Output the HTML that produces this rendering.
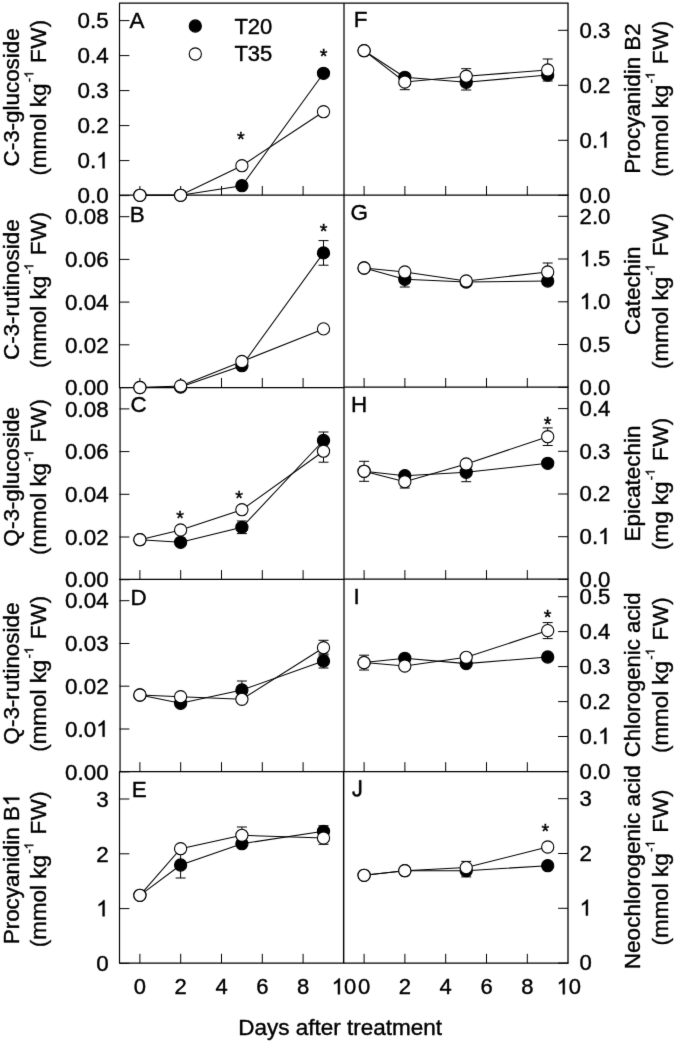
<!DOCTYPE html>
<html><head><meta charset="utf-8"><title>Figure</title>
<style>html,body{margin:0;padding:0;background:#fff;}body{width:675px;height:1042px;overflow:hidden;font-family:"Liberation Sans",sans-serif;}svg{display:block;filter:grayscale(1);}</style></head>
<body>
<svg width="675" height="1042" viewBox="0 0 675 1042" font-family="'Liberation Sans', sans-serif" fill="#000">
<style>text,path.g{stroke:#000;stroke-width:0.4px;}</style>
<defs><filter id="soft" x="0" y="0" width="100%" height="100%" filterUnits="userSpaceOnUse" primitiveUnits="userSpaceOnUse" color-interpolation-filters="sRGB"><feConvolveMatrix order="3" kernelMatrix="0.008 0.067 0.008 0.067 0.700 0.067 0.008 0.067 0.008" divisor="1" edgeMode="duplicate" preserveAlpha="true"/></filter></defs>
<g filter="url(#soft)">
<rect x="0" y="0" width="675" height="1042" fill="#fff"/>
<line x1="119.00" y1="3.15" x2="344.00" y2="3.15" stroke="#000" stroke-width="1.25"/>
<line x1="344.00" y1="3.15" x2="568.60" y2="3.15" stroke="#000" stroke-width="1.25"/>
<line x1="119.00" y1="195.10" x2="344.00" y2="195.10" stroke="#000" stroke-width="1.25"/>
<line x1="344.00" y1="195.05" x2="568.60" y2="195.05" stroke="#000" stroke-width="1.25"/>
<line x1="119.00" y1="387.60" x2="344.00" y2="387.60" stroke="#000" stroke-width="1.25"/>
<line x1="344.00" y1="387.15" x2="568.60" y2="387.15" stroke="#000" stroke-width="1.25"/>
<line x1="119.00" y1="579.25" x2="344.00" y2="579.25" stroke="#000" stroke-width="1.25"/>
<line x1="344.00" y1="579.20" x2="568.60" y2="579.20" stroke="#000" stroke-width="1.25"/>
<line x1="119.00" y1="771.65" x2="344.00" y2="771.65" stroke="#000" stroke-width="1.25"/>
<line x1="344.00" y1="771.60" x2="568.60" y2="771.60" stroke="#000" stroke-width="1.25"/>
<line x1="119.00" y1="963.20" x2="344.00" y2="963.20" stroke="#000" stroke-width="1.25"/>
<line x1="344.00" y1="963.20" x2="568.60" y2="963.20" stroke="#000" stroke-width="1.25"/>
<line x1="119.50" y1="3.15" x2="119.50" y2="195.10" stroke="#000" stroke-width="1.2"/>
<line x1="344.00" y1="3.15" x2="344.00" y2="195.10" stroke="#000" stroke-width="1.25"/>
<line x1="568.00" y1="3.15" x2="568.00" y2="195.10" stroke="#000" stroke-width="1.3"/>
<line x1="119.50" y1="195.10" x2="119.50" y2="387.60" stroke="#000" stroke-width="1.2"/>
<line x1="344.00" y1="195.10" x2="344.00" y2="387.60" stroke="#000" stroke-width="1.25"/>
<line x1="568.00" y1="195.10" x2="568.00" y2="387.60" stroke="#000" stroke-width="1.3"/>
<line x1="120.05" y1="387.60" x2="120.05" y2="579.25" stroke="#000" stroke-width="1.2"/>
<line x1="344.00" y1="387.60" x2="344.00" y2="579.25" stroke="#000" stroke-width="1.25"/>
<line x1="568.00" y1="387.60" x2="568.00" y2="579.25" stroke="#000" stroke-width="1.3"/>
<line x1="120.05" y1="579.25" x2="120.05" y2="771.65" stroke="#000" stroke-width="1.2"/>
<line x1="344.00" y1="579.25" x2="344.00" y2="771.65" stroke="#000" stroke-width="1.25"/>
<line x1="568.00" y1="579.25" x2="568.00" y2="771.65" stroke="#000" stroke-width="1.3"/>
<line x1="119.50" y1="771.65" x2="119.50" y2="963.20" stroke="#000" stroke-width="1.2"/>
<line x1="343.65" y1="771.65" x2="343.65" y2="963.20" stroke="#000" stroke-width="1.45"/>
<line x1="568.00" y1="771.65" x2="568.00" y2="963.20" stroke="#000" stroke-width="1.3"/>
<line x1="139.90" y1="195.30" x2="139.90" y2="186.00" stroke="#000" stroke-width="1.0"/>
<line x1="180.70" y1="195.30" x2="180.70" y2="186.00" stroke="#000" stroke-width="1.0"/>
<line x1="221.50" y1="195.30" x2="221.50" y2="186.00" stroke="#000" stroke-width="1.0"/>
<line x1="262.30" y1="195.30" x2="262.30" y2="186.00" stroke="#000" stroke-width="1.0"/>
<line x1="303.10" y1="195.30" x2="303.10" y2="186.00" stroke="#000" stroke-width="1.0"/>
<line x1="364.10" y1="195.30" x2="364.10" y2="186.00" stroke="#000" stroke-width="1.0"/>
<line x1="404.90" y1="195.30" x2="404.90" y2="186.00" stroke="#000" stroke-width="1.0"/>
<line x1="445.70" y1="195.30" x2="445.70" y2="186.00" stroke="#000" stroke-width="1.0"/>
<line x1="486.50" y1="195.30" x2="486.50" y2="186.00" stroke="#000" stroke-width="1.0"/>
<line x1="527.30" y1="195.30" x2="527.30" y2="186.00" stroke="#000" stroke-width="1.0"/>
<line x1="139.90" y1="387.30" x2="139.90" y2="378.00" stroke="#000" stroke-width="1.0"/>
<line x1="180.70" y1="387.30" x2="180.70" y2="378.00" stroke="#000" stroke-width="1.0"/>
<line x1="221.50" y1="387.30" x2="221.50" y2="378.00" stroke="#000" stroke-width="1.0"/>
<line x1="262.30" y1="387.30" x2="262.30" y2="378.00" stroke="#000" stroke-width="1.0"/>
<line x1="303.10" y1="387.30" x2="303.10" y2="378.00" stroke="#000" stroke-width="1.0"/>
<line x1="364.10" y1="387.30" x2="364.10" y2="378.00" stroke="#000" stroke-width="1.0"/>
<line x1="404.90" y1="387.30" x2="404.90" y2="378.00" stroke="#000" stroke-width="1.0"/>
<line x1="445.70" y1="387.30" x2="445.70" y2="378.00" stroke="#000" stroke-width="1.0"/>
<line x1="486.50" y1="387.30" x2="486.50" y2="378.00" stroke="#000" stroke-width="1.0"/>
<line x1="527.30" y1="387.30" x2="527.30" y2="378.00" stroke="#000" stroke-width="1.0"/>
<line x1="139.90" y1="579.40" x2="139.90" y2="570.10" stroke="#000" stroke-width="1.0"/>
<line x1="180.70" y1="579.40" x2="180.70" y2="570.10" stroke="#000" stroke-width="1.0"/>
<line x1="221.50" y1="579.40" x2="221.50" y2="570.10" stroke="#000" stroke-width="1.0"/>
<line x1="262.30" y1="579.40" x2="262.30" y2="570.10" stroke="#000" stroke-width="1.0"/>
<line x1="303.10" y1="579.40" x2="303.10" y2="570.10" stroke="#000" stroke-width="1.0"/>
<line x1="364.10" y1="579.40" x2="364.10" y2="570.10" stroke="#000" stroke-width="1.0"/>
<line x1="404.90" y1="579.40" x2="404.90" y2="570.10" stroke="#000" stroke-width="1.0"/>
<line x1="445.70" y1="579.40" x2="445.70" y2="570.10" stroke="#000" stroke-width="1.0"/>
<line x1="486.50" y1="579.40" x2="486.50" y2="570.10" stroke="#000" stroke-width="1.0"/>
<line x1="527.30" y1="579.40" x2="527.30" y2="570.10" stroke="#000" stroke-width="1.0"/>
<line x1="139.90" y1="771.50" x2="139.90" y2="762.20" stroke="#000" stroke-width="1.0"/>
<line x1="180.70" y1="771.50" x2="180.70" y2="762.20" stroke="#000" stroke-width="1.0"/>
<line x1="221.50" y1="771.50" x2="221.50" y2="762.20" stroke="#000" stroke-width="1.0"/>
<line x1="262.30" y1="771.50" x2="262.30" y2="762.20" stroke="#000" stroke-width="1.0"/>
<line x1="303.10" y1="771.50" x2="303.10" y2="762.20" stroke="#000" stroke-width="1.0"/>
<line x1="364.10" y1="771.50" x2="364.10" y2="762.20" stroke="#000" stroke-width="1.0"/>
<line x1="404.90" y1="771.50" x2="404.90" y2="762.20" stroke="#000" stroke-width="1.0"/>
<line x1="445.70" y1="771.50" x2="445.70" y2="762.20" stroke="#000" stroke-width="1.0"/>
<line x1="486.50" y1="771.50" x2="486.50" y2="762.20" stroke="#000" stroke-width="1.0"/>
<line x1="527.30" y1="771.50" x2="527.30" y2="762.20" stroke="#000" stroke-width="1.0"/>
<line x1="139.90" y1="963.10" x2="139.90" y2="953.80" stroke="#000" stroke-width="1.0"/>
<line x1="180.70" y1="963.10" x2="180.70" y2="953.80" stroke="#000" stroke-width="1.0"/>
<line x1="221.50" y1="963.10" x2="221.50" y2="953.80" stroke="#000" stroke-width="1.0"/>
<line x1="262.30" y1="963.10" x2="262.30" y2="953.80" stroke="#000" stroke-width="1.0"/>
<line x1="303.10" y1="963.10" x2="303.10" y2="953.80" stroke="#000" stroke-width="1.0"/>
<line x1="364.10" y1="963.10" x2="364.10" y2="953.80" stroke="#000" stroke-width="1.0"/>
<line x1="404.90" y1="963.10" x2="404.90" y2="953.80" stroke="#000" stroke-width="1.0"/>
<line x1="445.70" y1="963.10" x2="445.70" y2="953.80" stroke="#000" stroke-width="1.0"/>
<line x1="486.50" y1="963.10" x2="486.50" y2="953.80" stroke="#000" stroke-width="1.0"/>
<line x1="527.30" y1="963.10" x2="527.30" y2="953.80" stroke="#000" stroke-width="1.0"/>
<line x1="119.60" y1="20.60" x2="129.40" y2="20.60" stroke="#000" stroke-width="1.0"/>
<text x="77.56" y="28.30" font-size="22.4" text-anchor="start" >0.5</text>
<line x1="119.60" y1="55.60" x2="129.40" y2="55.60" stroke="#000" stroke-width="1.0"/>
<text x="77.56" y="63.30" font-size="22.4" text-anchor="start" >0.4</text>
<line x1="119.60" y1="90.60" x2="129.40" y2="90.60" stroke="#000" stroke-width="1.0"/>
<text x="77.56" y="98.30" font-size="22.4" text-anchor="start" >0.3</text>
<line x1="119.60" y1="125.60" x2="129.40" y2="125.60" stroke="#000" stroke-width="1.0"/>
<text x="77.56" y="133.30" font-size="22.4" text-anchor="start" >0.2</text>
<line x1="119.60" y1="160.60" x2="129.40" y2="160.60" stroke="#000" stroke-width="1.0"/>
<text x="77.56" y="168.30" font-size="22.4" text-anchor="start" >0.</text>
<path class="g" d="M104.59,168.30L102.62,168.30L102.62,155.75Q101.91,156.43 100.76,157.11Q99.60,157.79 98.68,158.13L98.68,156.23Q100.34,155.45 101.57,154.34Q102.81,153.24 103.32,152.20L104.59,152.20Z"/>
<line x1="119.60" y1="195.60" x2="129.40" y2="195.60" stroke="#000" stroke-width="1.0"/>
<text x="77.56" y="203.30" font-size="22.4" text-anchor="start" >0.0</text>
<text transform="translate(19.30,97.40) rotate(-90)" font-size="22.4" text-anchor="middle">C-3-glucoside</text>
<g transform="translate(46.30,97.40) rotate(-90)">
<text x="-78.21" y="0.00" font-size="22.4" text-anchor="start" >(mmol kg</text>
<text x="15.38" y="-13.00" font-size="12.5" text-anchor="start" >-</text>
<path class="g" d="M24.20,-13.00L23.10,-13.00L23.10,-20.00Q22.71,-19.62 22.06,-19.24Q21.42,-18.87 20.91,-18.68L20.91,-19.74Q21.83,-20.17 22.52,-20.79Q23.21,-21.40 23.49,-21.98L24.20,-21.98Z"/>
<text x="34.42" y="0.00" font-size="22.4" text-anchor="start" letter-spacing="0.5">FW)</text>
</g>
<line x1="119.60" y1="216.70" x2="129.40" y2="216.70" stroke="#000" stroke-width="1.0"/>
<text x="65.11" y="224.40" font-size="22.4" text-anchor="start" >0.08</text>
<line x1="119.60" y1="259.40" x2="129.40" y2="259.40" stroke="#000" stroke-width="1.0"/>
<text x="65.11" y="267.10" font-size="22.4" text-anchor="start" >0.06</text>
<line x1="119.60" y1="302.10" x2="129.40" y2="302.10" stroke="#000" stroke-width="1.0"/>
<text x="65.11" y="309.80" font-size="22.4" text-anchor="start" >0.04</text>
<line x1="119.60" y1="344.80" x2="129.40" y2="344.80" stroke="#000" stroke-width="1.0"/>
<text x="65.11" y="352.50" font-size="22.4" text-anchor="start" >0.02</text>
<line x1="119.60" y1="387.60" x2="129.40" y2="387.60" stroke="#000" stroke-width="1.0"/>
<text x="65.11" y="395.30" font-size="22.4" text-anchor="start" >0.00</text>
<text transform="translate(19.30,289.70) rotate(-90)" font-size="22.4" text-anchor="middle">C-3-rutinoside</text>
<g transform="translate(46.30,289.70) rotate(-90)">
<text x="-78.21" y="0.00" font-size="22.4" text-anchor="start" >(mmol kg</text>
<text x="15.38" y="-13.00" font-size="12.5" text-anchor="start" >-</text>
<path class="g" d="M24.20,-13.00L23.10,-13.00L23.10,-20.00Q22.71,-19.62 22.06,-19.24Q21.42,-18.87 20.91,-18.68L20.91,-19.74Q21.83,-20.17 22.52,-20.79Q23.21,-21.40 23.49,-21.98L24.20,-21.98Z"/>
<text x="34.42" y="0.00" font-size="22.4" text-anchor="start" letter-spacing="0.5">FW)</text>
</g>
<line x1="119.60" y1="408.90" x2="129.40" y2="408.90" stroke="#000" stroke-width="1.0"/>
<text x="65.11" y="416.60" font-size="22.4" text-anchor="start" >0.08</text>
<line x1="119.60" y1="451.60" x2="129.40" y2="451.60" stroke="#000" stroke-width="1.0"/>
<text x="65.11" y="459.30" font-size="22.4" text-anchor="start" >0.06</text>
<line x1="119.60" y1="494.30" x2="129.40" y2="494.30" stroke="#000" stroke-width="1.0"/>
<text x="65.11" y="502.00" font-size="22.4" text-anchor="start" >0.04</text>
<line x1="119.60" y1="537.00" x2="129.40" y2="537.00" stroke="#000" stroke-width="1.0"/>
<text x="65.11" y="544.70" font-size="22.4" text-anchor="start" >0.02</text>
<line x1="119.60" y1="579.70" x2="129.40" y2="579.70" stroke="#000" stroke-width="1.0"/>
<text x="65.11" y="587.40" font-size="22.4" text-anchor="start" >0.00</text>
<text transform="translate(19.30,476.80) rotate(-90)" font-size="22.4" text-anchor="middle">Q-3-glucoside</text>
<g transform="translate(46.30,476.80) rotate(-90)">
<text x="-78.21" y="0.00" font-size="22.4" text-anchor="start" >(mmol kg</text>
<text x="15.38" y="-13.00" font-size="12.5" text-anchor="start" >-</text>
<path class="g" d="M24.20,-13.00L23.10,-13.00L23.10,-20.00Q22.71,-19.62 22.06,-19.24Q21.42,-18.87 20.91,-18.68L20.91,-19.74Q21.83,-20.17 22.52,-20.79Q23.21,-21.40 23.49,-21.98L24.20,-21.98Z"/>
<text x="34.42" y="0.00" font-size="22.4" text-anchor="start" letter-spacing="0.5">FW)</text>
</g>
<line x1="119.60" y1="600.70" x2="129.40" y2="600.70" stroke="#000" stroke-width="1.0"/>
<text x="65.11" y="608.40" font-size="22.4" text-anchor="start" >0.04</text>
<line x1="119.60" y1="643.50" x2="129.40" y2="643.50" stroke="#000" stroke-width="1.0"/>
<text x="65.11" y="651.20" font-size="22.4" text-anchor="start" >0.03</text>
<line x1="119.60" y1="686.20" x2="129.40" y2="686.20" stroke="#000" stroke-width="1.0"/>
<text x="65.11" y="693.90" font-size="22.4" text-anchor="start" >0.02</text>
<line x1="119.60" y1="729.00" x2="129.40" y2="729.00" stroke="#000" stroke-width="1.0"/>
<text x="65.11" y="736.70" font-size="22.4" text-anchor="start" >0.0</text>
<path class="g" d="M104.59,736.70L102.62,736.70L102.62,724.15Q101.91,724.83 100.76,725.51Q99.60,726.19 98.68,726.53L98.68,724.62Q100.34,723.85 101.57,722.74Q102.81,721.64 103.32,720.60L104.59,720.60Z"/>
<line x1="119.60" y1="771.80" x2="129.40" y2="771.80" stroke="#000" stroke-width="1.0"/>
<text x="65.11" y="779.50" font-size="22.4" text-anchor="start" >0.00</text>
<text transform="translate(19.30,673.55) rotate(-90)" font-size="22.4" text-anchor="middle">Q-3-rutinoside</text>
<g transform="translate(46.30,673.55) rotate(-90)">
<text x="-78.21" y="0.00" font-size="22.4" text-anchor="start" >(mmol kg</text>
<text x="15.38" y="-13.00" font-size="12.5" text-anchor="start" >-</text>
<path class="g" d="M24.20,-13.00L23.10,-13.00L23.10,-20.00Q22.71,-19.62 22.06,-19.24Q21.42,-18.87 20.91,-18.68L20.91,-19.74Q21.83,-20.17 22.52,-20.79Q23.21,-21.40 23.49,-21.98L24.20,-21.98Z"/>
<text x="34.42" y="0.00" font-size="22.4" text-anchor="start" letter-spacing="0.5">FW)</text>
</g>
<line x1="119.60" y1="799.00" x2="129.40" y2="799.00" stroke="#000" stroke-width="1.0"/>
<text x="96.25" y="806.70" font-size="22.4" text-anchor="start" >3</text>
<line x1="119.60" y1="853.80" x2="129.40" y2="853.80" stroke="#000" stroke-width="1.0"/>
<text x="96.25" y="861.50" font-size="22.4" text-anchor="start" >2</text>
<line x1="119.60" y1="908.60" x2="129.40" y2="908.60" stroke="#000" stroke-width="1.0"/>
<path class="g" d="M104.59,916.30L102.62,916.30L102.62,903.75Q101.91,904.43 100.76,905.11Q99.60,905.79 98.68,906.13L98.68,904.22Q100.34,903.45 101.57,902.34Q102.81,901.24 103.32,900.20L104.59,900.20Z"/>
<line x1="119.60" y1="963.40" x2="129.40" y2="963.40" stroke="#000" stroke-width="1.0"/>
<text x="96.25" y="971.10" font-size="22.4" text-anchor="start" >0</text>
<g transform="translate(19.30,868.95) rotate(-90)">
<text x="-75.32" y="0.00" font-size="22.4" text-anchor="start" >Procyanidin B</text>
<path class="g" d="M71.21,0.00L69.24,0.00L69.24,-12.55Q68.53,-11.87 67.38,-11.19Q66.22,-10.51 65.30,-10.17L65.30,-12.07Q66.96,-12.85 68.19,-13.96Q69.43,-15.06 69.94,-16.10L71.21,-16.10Z"/>
</g>
<g transform="translate(46.30,868.95) rotate(-90)">
<text x="-78.21" y="0.00" font-size="22.4" text-anchor="start" >(mmol kg</text>
<text x="15.38" y="-13.00" font-size="12.5" text-anchor="start" >-</text>
<path class="g" d="M24.20,-13.00L23.10,-13.00L23.10,-20.00Q22.71,-19.62 22.06,-19.24Q21.42,-18.87 20.91,-18.68L20.91,-19.74Q21.83,-20.17 22.52,-20.79Q23.21,-21.40 23.49,-21.98L24.20,-21.98Z"/>
<text x="34.42" y="0.00" font-size="22.4" text-anchor="start" letter-spacing="0.5">FW)</text>
</g>
<line x1="568.00" y1="30.30" x2="558.10" y2="30.30" stroke="#000" stroke-width="1.0"/>
<text x="579.60" y="37.60" font-size="22.2" text-anchor="start" >0.3</text>
<line x1="568.00" y1="85.30" x2="558.10" y2="85.30" stroke="#000" stroke-width="1.0"/>
<text x="579.60" y="92.60" font-size="22.2" text-anchor="start" >0.2</text>
<line x1="568.00" y1="140.30" x2="558.10" y2="140.30" stroke="#000" stroke-width="1.0"/>
<text x="579.60" y="147.60" font-size="22.2" text-anchor="start" >0.</text>
<path class="g" d="M606.39,147.60L604.43,147.60L604.43,135.17Q603.73,135.84 602.59,136.51Q601.44,137.18 600.53,137.52L600.53,135.63Q602.17,134.86 603.39,133.77Q604.62,132.67 605.13,131.64L606.39,131.64Z"/>
<line x1="568.00" y1="195.30" x2="558.10" y2="195.30" stroke="#000" stroke-width="1.0"/>
<text x="579.60" y="202.60" font-size="22.2" text-anchor="start" >0.0</text>
<text transform="translate(640.10,98.55) rotate(-90)" font-size="22.4" text-anchor="middle">Procyanidin B2</text>
<g transform="translate(667.60,98.55) rotate(-90)">
<text x="-78.21" y="0.00" font-size="22.4" text-anchor="start" >(mmol kg</text>
<text x="15.38" y="-13.00" font-size="12.5" text-anchor="start" >-</text>
<path class="g" d="M24.20,-13.00L23.10,-13.00L23.10,-20.00Q22.71,-19.62 22.06,-19.24Q21.42,-18.87 20.91,-18.68L20.91,-19.74Q21.83,-20.17 22.52,-20.79Q23.21,-21.40 23.49,-21.98L24.20,-21.98Z"/>
<text x="34.42" y="0.00" font-size="22.4" text-anchor="start" letter-spacing="0.5">FW)</text>
</g>
<line x1="568.00" y1="216.30" x2="558.10" y2="216.30" stroke="#000" stroke-width="1.0"/>
<text x="579.60" y="223.60" font-size="22.2" text-anchor="start" >2.0</text>
<line x1="568.00" y1="259.00" x2="558.10" y2="259.00" stroke="#000" stroke-width="1.0"/>
<path class="g" d="M587.87,266.30L585.92,266.30L585.92,253.87Q585.22,254.54 584.07,255.21Q582.93,255.88 582.02,256.22L582.02,254.33Q583.65,253.56 584.88,252.47Q586.10,251.37 586.61,250.34L587.87,250.34Z"/>
<text x="591.94" y="266.30" font-size="22.2" text-anchor="start" >.5</text>
<line x1="568.00" y1="301.80" x2="558.10" y2="301.80" stroke="#000" stroke-width="1.0"/>
<path class="g" d="M587.87,309.10L585.92,309.10L585.92,296.67Q585.22,297.34 584.07,298.01Q582.93,298.68 582.02,299.02L582.02,297.13Q583.65,296.36 584.88,295.27Q586.10,294.17 586.61,293.14L587.87,293.14Z"/>
<text x="591.94" y="309.10" font-size="22.2" text-anchor="start" >.0</text>
<line x1="568.00" y1="344.50" x2="558.10" y2="344.50" stroke="#000" stroke-width="1.0"/>
<text x="579.60" y="351.80" font-size="22.2" text-anchor="start" >0.5</text>
<line x1="568.00" y1="387.30" x2="558.10" y2="387.30" stroke="#000" stroke-width="1.0"/>
<text x="579.60" y="394.60" font-size="22.2" text-anchor="start" >0.0</text>
<text transform="translate(640.10,290.70) rotate(-90)" font-size="22.4" text-anchor="middle">Catechin</text>
<g transform="translate(667.60,290.70) rotate(-90)">
<text x="-78.21" y="0.00" font-size="22.4" text-anchor="start" >(mmol kg</text>
<text x="15.38" y="-13.00" font-size="12.5" text-anchor="start" >-</text>
<path class="g" d="M24.20,-13.00L23.10,-13.00L23.10,-20.00Q22.71,-19.62 22.06,-19.24Q21.42,-18.87 20.91,-18.68L20.91,-19.74Q21.83,-20.17 22.52,-20.79Q23.21,-21.40 23.49,-21.98L24.20,-21.98Z"/>
<text x="34.42" y="0.00" font-size="22.4" text-anchor="start" letter-spacing="0.5">FW)</text>
</g>
<line x1="568.00" y1="408.60" x2="558.10" y2="408.60" stroke="#000" stroke-width="1.0"/>
<text x="579.60" y="415.90" font-size="22.2" text-anchor="start" >0.4</text>
<line x1="568.00" y1="451.30" x2="558.10" y2="451.30" stroke="#000" stroke-width="1.0"/>
<text x="579.60" y="458.60" font-size="22.2" text-anchor="start" >0.3</text>
<line x1="568.00" y1="494.00" x2="558.10" y2="494.00" stroke="#000" stroke-width="1.0"/>
<text x="579.60" y="501.30" font-size="22.2" text-anchor="start" >0.2</text>
<line x1="568.00" y1="536.70" x2="558.10" y2="536.70" stroke="#000" stroke-width="1.0"/>
<text x="579.60" y="544.00" font-size="22.2" text-anchor="start" >0.</text>
<path class="g" d="M606.39,544.00L604.43,544.00L604.43,531.57Q603.73,532.24 602.59,532.91Q601.44,533.58 600.53,533.92L600.53,532.03Q602.17,531.26 603.39,530.17Q604.62,529.07 605.13,528.04L606.39,528.04Z"/>
<line x1="568.00" y1="579.40" x2="558.10" y2="579.40" stroke="#000" stroke-width="1.0"/>
<text x="579.60" y="586.70" font-size="22.2" text-anchor="start" >0.0</text>
<text transform="translate(640.10,483.55) rotate(-90)" font-size="22.4" text-anchor="middle">Epicatechin</text>
<g transform="translate(667.60,483.55) rotate(-90)">
<text x="-66.39" y="0.00" font-size="22.4" text-anchor="start" >(mg kg</text>
<text x="3.56" y="-13.00" font-size="12.5" text-anchor="start" >-</text>
<path class="g" d="M12.38,-13.00L11.28,-13.00L11.28,-20.00Q10.89,-19.62 10.24,-19.24Q9.60,-18.87 9.09,-18.68L9.09,-19.74Q10.01,-20.17 10.70,-20.79Q11.39,-21.40 11.67,-21.98L12.38,-21.98Z"/>
<text x="22.60" y="0.00" font-size="22.4" text-anchor="start" letter-spacing="0.5">FW)</text>
</g>
<line x1="568.00" y1="596.70" x2="558.10" y2="596.70" stroke="#000" stroke-width="1.0"/>
<text x="579.60" y="604.00" font-size="22.2" text-anchor="start" >0.5</text>
<line x1="568.00" y1="631.60" x2="558.10" y2="631.60" stroke="#000" stroke-width="1.0"/>
<text x="579.60" y="638.90" font-size="22.2" text-anchor="start" >0.4</text>
<line x1="568.00" y1="666.60" x2="558.10" y2="666.60" stroke="#000" stroke-width="1.0"/>
<text x="579.60" y="673.90" font-size="22.2" text-anchor="start" >0.3</text>
<line x1="568.00" y1="701.60" x2="558.10" y2="701.60" stroke="#000" stroke-width="1.0"/>
<text x="579.60" y="708.90" font-size="22.2" text-anchor="start" >0.2</text>
<line x1="568.00" y1="736.50" x2="558.10" y2="736.50" stroke="#000" stroke-width="1.0"/>
<text x="579.60" y="743.80" font-size="22.2" text-anchor="start" >0.</text>
<path class="g" d="M606.39,743.80L604.43,743.80L604.43,731.37Q603.73,732.04 602.59,732.71Q601.44,733.38 600.53,733.72L600.53,731.83Q602.17,731.06 603.39,729.97Q604.62,728.87 605.13,727.84L606.39,727.84Z"/>
<line x1="568.00" y1="771.50" x2="558.10" y2="771.50" stroke="#000" stroke-width="1.0"/>
<text x="579.60" y="778.80" font-size="22.2" text-anchor="start" >0.0</text>
<text transform="translate(640.10,674.85) rotate(-90)" font-size="22.1" text-anchor="middle">Chlorogenic acid</text>
<g transform="translate(667.60,674.85) rotate(-90)">
<text x="-78.21" y="0.00" font-size="22.4" text-anchor="start" >(mmol kg</text>
<text x="15.38" y="-13.00" font-size="12.5" text-anchor="start" >-</text>
<path class="g" d="M24.20,-13.00L23.10,-13.00L23.10,-20.00Q22.71,-19.62 22.06,-19.24Q21.42,-18.87 20.91,-18.68L20.91,-19.74Q21.83,-20.17 22.52,-20.79Q23.21,-21.40 23.49,-21.98L24.20,-21.98Z"/>
<text x="34.42" y="0.00" font-size="22.4" text-anchor="start" letter-spacing="0.5">FW)</text>
</g>
<line x1="568.00" y1="798.70" x2="558.10" y2="798.70" stroke="#000" stroke-width="1.0"/>
<text x="579.60" y="806.00" font-size="22.2" text-anchor="start" >3</text>
<line x1="568.00" y1="853.50" x2="558.10" y2="853.50" stroke="#000" stroke-width="1.0"/>
<text x="579.60" y="860.80" font-size="22.2" text-anchor="start" >2</text>
<line x1="568.00" y1="908.30" x2="558.10" y2="908.30" stroke="#000" stroke-width="1.0"/>
<path class="g" d="M587.87,915.60L585.92,915.60L585.92,903.17Q585.22,903.84 584.07,904.51Q582.93,905.18 582.02,905.52L582.02,903.63Q583.65,902.86 584.88,901.77Q586.10,900.67 586.61,899.64L587.87,899.64Z"/>
<line x1="568.00" y1="963.10" x2="558.10" y2="963.10" stroke="#000" stroke-width="1.0"/>
<text x="579.60" y="970.40" font-size="22.2" text-anchor="start" >0</text>
<text transform="translate(640.10,867.20) rotate(-90)" font-size="22.5" text-anchor="middle">Neochlorogenic acid</text>
<g transform="translate(667.60,867.20) rotate(-90)">
<text x="-78.21" y="0.00" font-size="22.4" text-anchor="start" >(mmol kg</text>
<text x="15.38" y="-13.00" font-size="12.5" text-anchor="start" >-</text>
<path class="g" d="M24.20,-13.00L23.10,-13.00L23.10,-20.00Q22.71,-19.62 22.06,-19.24Q21.42,-18.87 20.91,-18.68L20.91,-19.74Q21.83,-20.17 22.52,-20.79Q23.21,-21.40 23.49,-21.98L24.20,-21.98Z"/>
<text x="34.42" y="0.00" font-size="22.4" text-anchor="start" letter-spacing="0.5">FW)</text>
</g>
<path d="M139.90,195.30 L180.60,195.30 L241.90,185.70 L323.50,73.30" fill="none" stroke="#000" stroke-width="1.05"/>
<line x1="323.50" y1="70.30" x2="323.50" y2="76.30" stroke="#000" stroke-width="1.0"/>
<line x1="318.50" y1="70.30" x2="328.50" y2="70.30" stroke="#000" stroke-width="1.0"/>
<line x1="318.50" y1="76.30" x2="328.50" y2="76.30" stroke="#000" stroke-width="1.0"/>
<circle cx="139.90" cy="195.30" r="6.1" fill="#000" stroke="#000" stroke-width="1.1"/>
<circle cx="180.60" cy="195.30" r="6.1" fill="#000" stroke="#000" stroke-width="1.1"/>
<circle cx="241.90" cy="185.70" r="6.1" fill="#000" stroke="#000" stroke-width="1.1"/>
<circle cx="323.50" cy="73.30" r="6.1" fill="#000" stroke="#000" stroke-width="1.1"/>
<path d="M139.90,195.30 L180.60,195.30 L241.90,165.70 L323.50,111.70" fill="none" stroke="#000" stroke-width="1.05"/>
<circle cx="139.90" cy="195.30" r="6.1" fill="#fff" stroke="#000" stroke-width="1.1"/>
<circle cx="180.60" cy="195.30" r="6.1" fill="#fff" stroke="#000" stroke-width="1.1"/>
<circle cx="241.90" cy="165.70" r="6.1" fill="#fff" stroke="#000" stroke-width="1.1"/>
<circle cx="323.50" cy="111.70" r="6.1" fill="#fff" stroke="#000" stroke-width="1.1"/>
<text x="240.90" y="146.10" font-size="19.8" text-anchor="middle" >*</text>
<text x="323.70" y="62.50" font-size="19.8" text-anchor="middle" >*</text>
<path d="M139.90,387.50 L180.60,387.00 L241.90,365.70 L323.50,252.90" fill="none" stroke="#000" stroke-width="1.05"/>
<line x1="323.50" y1="240.60" x2="323.50" y2="265.20" stroke="#000" stroke-width="1.0"/>
<line x1="318.50" y1="240.60" x2="328.50" y2="240.60" stroke="#000" stroke-width="1.0"/>
<line x1="318.50" y1="265.20" x2="328.50" y2="265.20" stroke="#000" stroke-width="1.0"/>
<circle cx="139.90" cy="387.50" r="6.1" fill="#000" stroke="#000" stroke-width="1.1"/>
<circle cx="180.60" cy="387.00" r="6.1" fill="#000" stroke="#000" stroke-width="1.1"/>
<circle cx="241.90" cy="365.70" r="6.1" fill="#000" stroke="#000" stroke-width="1.1"/>
<circle cx="323.50" cy="252.90" r="6.1" fill="#000" stroke="#000" stroke-width="1.1"/>
<path d="M139.90,387.50 L180.60,386.00 L241.90,361.50 L323.50,328.90" fill="none" stroke="#000" stroke-width="1.05"/>
<circle cx="139.90" cy="387.50" r="6.1" fill="#fff" stroke="#000" stroke-width="1.1"/>
<circle cx="180.60" cy="386.00" r="6.1" fill="#fff" stroke="#000" stroke-width="1.1"/>
<circle cx="241.90" cy="361.50" r="6.1" fill="#fff" stroke="#000" stroke-width="1.1"/>
<circle cx="323.50" cy="328.90" r="6.1" fill="#fff" stroke="#000" stroke-width="1.1"/>
<text x="323.50" y="238.10" font-size="19.8" text-anchor="middle" >*</text>
<path d="M139.90,539.70 L180.60,542.30 L241.90,527.30 L323.50,440.50" fill="none" stroke="#000" stroke-width="1.05"/>
<line x1="241.90" y1="521.00" x2="241.90" y2="533.60" stroke="#000" stroke-width="1.0"/>
<line x1="236.90" y1="521.00" x2="246.90" y2="521.00" stroke="#000" stroke-width="1.0"/>
<line x1="236.90" y1="533.60" x2="246.90" y2="533.60" stroke="#000" stroke-width="1.0"/>
<line x1="323.50" y1="432.00" x2="323.50" y2="449.00" stroke="#000" stroke-width="1.0"/>
<line x1="318.50" y1="432.00" x2="328.50" y2="432.00" stroke="#000" stroke-width="1.0"/>
<line x1="318.50" y1="449.00" x2="328.50" y2="449.00" stroke="#000" stroke-width="1.0"/>
<circle cx="139.90" cy="539.70" r="6.1" fill="#000" stroke="#000" stroke-width="1.1"/>
<circle cx="180.60" cy="542.30" r="6.1" fill="#000" stroke="#000" stroke-width="1.1"/>
<circle cx="241.90" cy="527.30" r="6.1" fill="#000" stroke="#000" stroke-width="1.1"/>
<circle cx="323.50" cy="440.50" r="6.1" fill="#000" stroke="#000" stroke-width="1.1"/>
<path d="M139.90,539.70 L180.60,530.00 L241.90,509.70 L323.50,451.20" fill="none" stroke="#000" stroke-width="1.05"/>
<line x1="323.50" y1="440.20" x2="323.50" y2="462.20" stroke="#000" stroke-width="1.0"/>
<line x1="318.50" y1="440.20" x2="328.50" y2="440.20" stroke="#000" stroke-width="1.0"/>
<line x1="318.50" y1="462.20" x2="328.50" y2="462.20" stroke="#000" stroke-width="1.0"/>
<circle cx="139.90" cy="539.70" r="6.1" fill="#fff" stroke="#000" stroke-width="1.1"/>
<circle cx="180.60" cy="530.00" r="6.1" fill="#fff" stroke="#000" stroke-width="1.1"/>
<circle cx="241.90" cy="509.70" r="6.1" fill="#fff" stroke="#000" stroke-width="1.1"/>
<circle cx="323.50" cy="451.20" r="6.1" fill="#fff" stroke="#000" stroke-width="1.1"/>
<text x="180.20" y="525.10" font-size="19.8" text-anchor="middle" >*</text>
<text x="239.20" y="505.10" font-size="19.8" text-anchor="middle" >*</text>
<path d="M139.90,695.00 L180.60,703.30 L241.90,690.00 L323.50,661.00" fill="none" stroke="#000" stroke-width="1.05"/>
<line x1="241.90" y1="681.00" x2="241.90" y2="699.00" stroke="#000" stroke-width="1.0"/>
<line x1="236.90" y1="681.00" x2="246.90" y2="681.00" stroke="#000" stroke-width="1.0"/>
<line x1="236.90" y1="699.00" x2="246.90" y2="699.00" stroke="#000" stroke-width="1.0"/>
<line x1="323.50" y1="654.00" x2="323.50" y2="668.00" stroke="#000" stroke-width="1.0"/>
<line x1="318.50" y1="654.00" x2="328.50" y2="654.00" stroke="#000" stroke-width="1.0"/>
<line x1="318.50" y1="668.00" x2="328.50" y2="668.00" stroke="#000" stroke-width="1.0"/>
<circle cx="139.90" cy="695.00" r="6.1" fill="#000" stroke="#000" stroke-width="1.1"/>
<circle cx="180.60" cy="703.30" r="6.1" fill="#000" stroke="#000" stroke-width="1.1"/>
<circle cx="241.90" cy="690.00" r="6.1" fill="#000" stroke="#000" stroke-width="1.1"/>
<circle cx="323.50" cy="661.00" r="6.1" fill="#000" stroke="#000" stroke-width="1.1"/>
<path d="M139.90,695.00 L180.60,696.70 L241.90,699.30 L323.50,647.70" fill="none" stroke="#000" stroke-width="1.05"/>
<line x1="323.50" y1="640.30" x2="323.50" y2="655.10" stroke="#000" stroke-width="1.0"/>
<line x1="318.50" y1="640.30" x2="328.50" y2="640.30" stroke="#000" stroke-width="1.0"/>
<line x1="318.50" y1="655.10" x2="328.50" y2="655.10" stroke="#000" stroke-width="1.0"/>
<circle cx="139.90" cy="695.00" r="6.1" fill="#fff" stroke="#000" stroke-width="1.1"/>
<circle cx="180.60" cy="696.70" r="6.1" fill="#fff" stroke="#000" stroke-width="1.1"/>
<circle cx="241.90" cy="699.30" r="6.1" fill="#fff" stroke="#000" stroke-width="1.1"/>
<circle cx="323.50" cy="647.70" r="6.1" fill="#fff" stroke="#000" stroke-width="1.1"/>
<path d="M139.90,895.30 L180.60,865.00 L241.90,843.70 L323.50,831.30" fill="none" stroke="#000" stroke-width="1.05"/>
<line x1="180.60" y1="852.00" x2="180.60" y2="878.00" stroke="#000" stroke-width="1.0"/>
<line x1="175.60" y1="852.00" x2="185.60" y2="852.00" stroke="#000" stroke-width="1.0"/>
<line x1="175.60" y1="878.00" x2="185.60" y2="878.00" stroke="#000" stroke-width="1.0"/>
<line x1="323.50" y1="825.70" x2="323.50" y2="836.90" stroke="#000" stroke-width="1.0"/>
<line x1="318.50" y1="825.70" x2="328.50" y2="825.70" stroke="#000" stroke-width="1.0"/>
<line x1="318.50" y1="836.90" x2="328.50" y2="836.90" stroke="#000" stroke-width="1.0"/>
<circle cx="139.90" cy="895.30" r="6.1" fill="#000" stroke="#000" stroke-width="1.1"/>
<circle cx="180.60" cy="865.00" r="6.1" fill="#000" stroke="#000" stroke-width="1.1"/>
<circle cx="241.90" cy="843.70" r="6.1" fill="#000" stroke="#000" stroke-width="1.1"/>
<circle cx="323.50" cy="831.30" r="6.1" fill="#000" stroke="#000" stroke-width="1.1"/>
<path d="M139.90,895.30 L180.60,848.70 L241.90,835.30 L323.50,838.00" fill="none" stroke="#000" stroke-width="1.05"/>
<line x1="241.90" y1="827.00" x2="241.90" y2="843.60" stroke="#000" stroke-width="1.0"/>
<line x1="236.90" y1="827.00" x2="246.90" y2="827.00" stroke="#000" stroke-width="1.0"/>
<line x1="236.90" y1="843.60" x2="246.90" y2="843.60" stroke="#000" stroke-width="1.0"/>
<line x1="323.50" y1="831.70" x2="323.50" y2="844.30" stroke="#000" stroke-width="1.0"/>
<line x1="318.50" y1="831.70" x2="328.50" y2="831.70" stroke="#000" stroke-width="1.0"/>
<line x1="318.50" y1="844.30" x2="328.50" y2="844.30" stroke="#000" stroke-width="1.0"/>
<circle cx="139.90" cy="895.30" r="6.1" fill="#fff" stroke="#000" stroke-width="1.1"/>
<circle cx="180.60" cy="848.70" r="6.1" fill="#fff" stroke="#000" stroke-width="1.1"/>
<circle cx="241.90" cy="835.30" r="6.1" fill="#fff" stroke="#000" stroke-width="1.1"/>
<circle cx="323.50" cy="838.00" r="6.1" fill="#fff" stroke="#000" stroke-width="1.1"/>
<path d="M364.10,50.70 L404.80,77.30 L466.20,82.30 L547.70,75.00" fill="none" stroke="#000" stroke-width="1.05"/>
<line x1="466.20" y1="74.60" x2="466.20" y2="90.00" stroke="#000" stroke-width="1.0"/>
<line x1="461.20" y1="74.60" x2="471.20" y2="74.60" stroke="#000" stroke-width="1.0"/>
<line x1="461.20" y1="90.00" x2="471.20" y2="90.00" stroke="#000" stroke-width="1.0"/>
<circle cx="364.10" cy="50.70" r="6.1" fill="#000" stroke="#000" stroke-width="1.1"/>
<circle cx="404.80" cy="77.30" r="6.1" fill="#000" stroke="#000" stroke-width="1.1"/>
<circle cx="466.20" cy="82.30" r="6.1" fill="#000" stroke="#000" stroke-width="1.1"/>
<circle cx="547.70" cy="75.00" r="6.1" fill="#000" stroke="#000" stroke-width="1.1"/>
<path d="M364.10,50.70 L404.80,82.00 L466.20,76.20 L547.70,70.00" fill="none" stroke="#000" stroke-width="1.05"/>
<line x1="404.80" y1="74.30" x2="404.80" y2="89.70" stroke="#000" stroke-width="1.0"/>
<line x1="399.80" y1="74.30" x2="409.80" y2="74.30" stroke="#000" stroke-width="1.0"/>
<line x1="399.80" y1="89.70" x2="409.80" y2="89.70" stroke="#000" stroke-width="1.0"/>
<line x1="466.20" y1="68.70" x2="466.20" y2="83.70" stroke="#000" stroke-width="1.0"/>
<line x1="461.20" y1="68.70" x2="471.20" y2="68.70" stroke="#000" stroke-width="1.0"/>
<line x1="461.20" y1="83.70" x2="471.20" y2="83.70" stroke="#000" stroke-width="1.0"/>
<line x1="547.70" y1="59.00" x2="547.70" y2="81.00" stroke="#000" stroke-width="1.0"/>
<line x1="542.70" y1="59.00" x2="552.70" y2="59.00" stroke="#000" stroke-width="1.0"/>
<line x1="542.70" y1="81.00" x2="552.70" y2="81.00" stroke="#000" stroke-width="1.0"/>
<circle cx="364.10" cy="50.70" r="6.1" fill="#fff" stroke="#000" stroke-width="1.1"/>
<circle cx="404.80" cy="82.00" r="6.1" fill="#fff" stroke="#000" stroke-width="1.1"/>
<circle cx="466.20" cy="76.20" r="6.1" fill="#fff" stroke="#000" stroke-width="1.1"/>
<circle cx="547.70" cy="70.00" r="6.1" fill="#fff" stroke="#000" stroke-width="1.1"/>
<path d="M364.10,268.00 L404.80,279.30 L466.20,282.00 L547.70,281.00" fill="none" stroke="#000" stroke-width="1.05"/>
<line x1="404.80" y1="271.60" x2="404.80" y2="287.00" stroke="#000" stroke-width="1.0"/>
<line x1="399.80" y1="271.60" x2="409.80" y2="271.60" stroke="#000" stroke-width="1.0"/>
<line x1="399.80" y1="287.00" x2="409.80" y2="287.00" stroke="#000" stroke-width="1.0"/>
<circle cx="364.10" cy="268.00" r="6.1" fill="#000" stroke="#000" stroke-width="1.1"/>
<circle cx="404.80" cy="279.30" r="6.1" fill="#000" stroke="#000" stroke-width="1.1"/>
<circle cx="466.20" cy="282.00" r="6.1" fill="#000" stroke="#000" stroke-width="1.1"/>
<circle cx="547.70" cy="281.00" r="6.1" fill="#000" stroke="#000" stroke-width="1.1"/>
<path d="M364.10,268.00 L404.80,272.00 L466.20,281.00 L547.70,272.00" fill="none" stroke="#000" stroke-width="1.05"/>
<line x1="547.70" y1="263.00" x2="547.70" y2="281.00" stroke="#000" stroke-width="1.0"/>
<line x1="542.70" y1="263.00" x2="552.70" y2="263.00" stroke="#000" stroke-width="1.0"/>
<line x1="542.70" y1="281.00" x2="552.70" y2="281.00" stroke="#000" stroke-width="1.0"/>
<circle cx="364.10" cy="268.00" r="6.1" fill="#fff" stroke="#000" stroke-width="1.1"/>
<circle cx="404.80" cy="272.00" r="6.1" fill="#fff" stroke="#000" stroke-width="1.1"/>
<circle cx="466.20" cy="281.00" r="6.1" fill="#fff" stroke="#000" stroke-width="1.1"/>
<circle cx="547.70" cy="272.00" r="6.1" fill="#fff" stroke="#000" stroke-width="1.1"/>
<path d="M364.10,471.30 L404.80,475.70 L466.20,472.30 L547.70,463.30" fill="none" stroke="#000" stroke-width="1.05"/>
<line x1="466.20" y1="462.90" x2="466.20" y2="481.70" stroke="#000" stroke-width="1.0"/>
<line x1="461.20" y1="462.90" x2="471.20" y2="462.90" stroke="#000" stroke-width="1.0"/>
<line x1="461.20" y1="481.70" x2="471.20" y2="481.70" stroke="#000" stroke-width="1.0"/>
<circle cx="364.10" cy="471.30" r="6.1" fill="#000" stroke="#000" stroke-width="1.1"/>
<circle cx="404.80" cy="475.70" r="6.1" fill="#000" stroke="#000" stroke-width="1.1"/>
<circle cx="466.20" cy="472.30" r="6.1" fill="#000" stroke="#000" stroke-width="1.1"/>
<circle cx="547.70" cy="463.30" r="6.1" fill="#000" stroke="#000" stroke-width="1.1"/>
<path d="M364.10,471.30 L404.80,481.70 L466.20,464.00 L547.70,436.70" fill="none" stroke="#000" stroke-width="1.05"/>
<line x1="364.10" y1="461.30" x2="364.10" y2="481.30" stroke="#000" stroke-width="1.0"/>
<line x1="359.10" y1="461.30" x2="369.10" y2="461.30" stroke="#000" stroke-width="1.0"/>
<line x1="359.10" y1="481.30" x2="369.10" y2="481.30" stroke="#000" stroke-width="1.0"/>
<line x1="404.80" y1="475.40" x2="404.80" y2="488.00" stroke="#000" stroke-width="1.0"/>
<line x1="399.80" y1="475.40" x2="409.80" y2="475.40" stroke="#000" stroke-width="1.0"/>
<line x1="399.80" y1="488.00" x2="409.80" y2="488.00" stroke="#000" stroke-width="1.0"/>
<line x1="547.70" y1="427.90" x2="547.70" y2="445.50" stroke="#000" stroke-width="1.0"/>
<line x1="542.70" y1="427.90" x2="552.70" y2="427.90" stroke="#000" stroke-width="1.0"/>
<line x1="542.70" y1="445.50" x2="552.70" y2="445.50" stroke="#000" stroke-width="1.0"/>
<circle cx="364.10" cy="471.30" r="6.1" fill="#fff" stroke="#000" stroke-width="1.1"/>
<circle cx="404.80" cy="481.70" r="6.1" fill="#fff" stroke="#000" stroke-width="1.1"/>
<circle cx="466.20" cy="464.00" r="6.1" fill="#fff" stroke="#000" stroke-width="1.1"/>
<circle cx="547.70" cy="436.70" r="6.1" fill="#fff" stroke="#000" stroke-width="1.1"/>
<text x="547.50" y="431.10" font-size="19.8" text-anchor="middle" >*</text>
<path d="M364.10,662.60 L404.80,658.30 L466.20,663.60 L547.70,657.00" fill="none" stroke="#000" stroke-width="1.05"/>
<circle cx="364.10" cy="662.60" r="6.1" fill="#000" stroke="#000" stroke-width="1.1"/>
<circle cx="404.80" cy="658.30" r="6.1" fill="#000" stroke="#000" stroke-width="1.1"/>
<circle cx="466.20" cy="663.60" r="6.1" fill="#000" stroke="#000" stroke-width="1.1"/>
<circle cx="547.70" cy="657.00" r="6.1" fill="#000" stroke="#000" stroke-width="1.1"/>
<path d="M364.10,662.60 L404.80,666.00 L466.20,657.30 L547.70,630.60" fill="none" stroke="#000" stroke-width="1.05"/>
<line x1="364.10" y1="655.20" x2="364.10" y2="670.00" stroke="#000" stroke-width="1.0"/>
<line x1="359.10" y1="655.20" x2="369.10" y2="655.20" stroke="#000" stroke-width="1.0"/>
<line x1="359.10" y1="670.00" x2="369.10" y2="670.00" stroke="#000" stroke-width="1.0"/>
<line x1="547.70" y1="622.60" x2="547.70" y2="638.60" stroke="#000" stroke-width="1.0"/>
<line x1="542.70" y1="622.60" x2="552.70" y2="622.60" stroke="#000" stroke-width="1.0"/>
<line x1="542.70" y1="638.60" x2="552.70" y2="638.60" stroke="#000" stroke-width="1.0"/>
<circle cx="364.10" cy="662.60" r="6.1" fill="#fff" stroke="#000" stroke-width="1.1"/>
<circle cx="404.80" cy="666.00" r="6.1" fill="#fff" stroke="#000" stroke-width="1.1"/>
<circle cx="466.20" cy="657.30" r="6.1" fill="#fff" stroke="#000" stroke-width="1.1"/>
<circle cx="547.70" cy="630.60" r="6.1" fill="#fff" stroke="#000" stroke-width="1.1"/>
<text x="547.50" y="624.40" font-size="19.8" text-anchor="middle" >*</text>
<path d="M364.10,875.30 L404.80,870.70 L466.20,870.70 L547.70,865.70" fill="none" stroke="#000" stroke-width="1.05"/>
<line x1="466.20" y1="870.70" x2="466.20" y2="876.90" stroke="#000" stroke-width="1.0"/>
<line x1="461.20" y1="876.90" x2="471.20" y2="876.90" stroke="#000" stroke-width="1.0"/>
<circle cx="364.10" cy="875.30" r="6.1" fill="#000" stroke="#000" stroke-width="1.1"/>
<circle cx="404.80" cy="870.70" r="6.1" fill="#000" stroke="#000" stroke-width="1.1"/>
<circle cx="466.20" cy="870.70" r="6.1" fill="#000" stroke="#000" stroke-width="1.1"/>
<circle cx="547.70" cy="865.70" r="6.1" fill="#000" stroke="#000" stroke-width="1.1"/>
<path d="M364.10,875.30 L404.80,870.70 L466.20,867.60 L547.70,847.00" fill="none" stroke="#000" stroke-width="1.05"/>
<line x1="466.20" y1="861.40" x2="466.20" y2="867.60" stroke="#000" stroke-width="1.0"/>
<line x1="461.20" y1="861.40" x2="471.20" y2="861.40" stroke="#000" stroke-width="1.0"/>
<circle cx="364.10" cy="875.30" r="6.1" fill="#fff" stroke="#000" stroke-width="1.1"/>
<circle cx="404.80" cy="870.70" r="6.1" fill="#fff" stroke="#000" stroke-width="1.1"/>
<circle cx="466.20" cy="867.60" r="6.1" fill="#fff" stroke="#000" stroke-width="1.1"/>
<circle cx="547.70" cy="847.00" r="6.1" fill="#fff" stroke="#000" stroke-width="1.1"/>
<text x="545.40" y="837.60" font-size="19.8" text-anchor="middle" >*</text>
<text x="129.60" y="27.70" font-size="22.4" text-anchor="start" >A</text>
<text x="129.70" y="222.00" font-size="22.4" text-anchor="start" >B</text>
<text x="130.40" y="412.10" font-size="22.4" text-anchor="start" >C</text>
<text x="130.50" y="605.00" font-size="22.4" text-anchor="start" >D</text>
<text x="131.70" y="796.80" font-size="22.4" text-anchor="start" >E</text>
<text x="353.80" y="26.70" font-size="22.4" text-anchor="start" >F</text>
<text x="350.50" y="220.20" font-size="22.4" text-anchor="start" >G</text>
<text x="351.00" y="411.70" font-size="22.4" text-anchor="start" >H</text>
<text x="353.50" y="604.30" font-size="22.4" text-anchor="start" >I</text>
<path class="g" d="M352.45,791.75L354.36,791.49Q354.44,793.32 355.05,794.00Q355.66,794.68 356.74,794.68Q357.54,794.68 358.12,794.31Q358.70,793.95 358.92,793.32Q359.14,792.69 359.14,791.31L359.14,780.27L361.26,780.27L361.26,791.19Q361.26,793.20 360.77,794.31Q360.29,795.41 359.23,795.99Q358.18,796.57 356.75,796.57Q354.64,796.57 353.52,795.36Q352.40,794.15 352.45,791.75Z"/>
<circle cx="195.3" cy="26.0" r="6.1" fill="#000" stroke="#000" stroke-width="1.1"/>
<circle cx="195.3" cy="54.0" r="6.1" fill="#fff" stroke="#000" stroke-width="1.1"/>
<text x="234.40" y="33.60" font-size="22.0" text-anchor="start" >T20</text>
<text x="234.40" y="61.40" font-size="22.0" text-anchor="start" >T35</text>
<text x="139.90" y="994.30" font-size="22.0" text-anchor="middle" >0</text>
<text x="180.70" y="994.30" font-size="22.0" text-anchor="middle" >2</text>
<text x="221.50" y="994.30" font-size="22.0" text-anchor="middle" >4</text>
<text x="262.30" y="994.30" font-size="22.0" text-anchor="middle" >6</text>
<text x="303.10" y="994.30" font-size="22.0" text-anchor="middle" >8</text>
<path class="g" d="M339.86,994.30L337.93,994.30L337.93,981.98Q337.23,982.64 336.10,983.31Q334.97,983.98 334.06,984.31L334.06,982.44Q335.69,981.68 336.90,980.59Q338.11,979.51 338.62,978.49L339.86,978.49Z"/>
<text x="343.90" y="994.30" font-size="22.0" text-anchor="start" >0</text>
<text x="364.10" y="994.30" font-size="22.0" text-anchor="middle" >0</text>
<text x="404.90" y="994.30" font-size="22.0" text-anchor="middle" >2</text>
<text x="445.70" y="994.30" font-size="22.0" text-anchor="middle" >4</text>
<text x="486.50" y="994.30" font-size="22.0" text-anchor="middle" >6</text>
<text x="527.30" y="994.30" font-size="22.0" text-anchor="middle" >8</text>
<path class="g" d="M564.76,994.30L562.83,994.30L562.83,981.98Q562.13,982.64 561.00,983.31Q559.87,983.98 558.96,984.31L558.96,982.44Q560.59,981.68 561.80,980.59Q563.01,979.51 563.52,978.49L564.76,978.49Z"/>
<text x="568.80" y="994.30" font-size="22.0" text-anchor="start" >0</text>
<text x="340.10" y="1034.50" font-size="22.5" text-anchor="middle" >Days after treatment</text>
</g></svg>
</body></html>
